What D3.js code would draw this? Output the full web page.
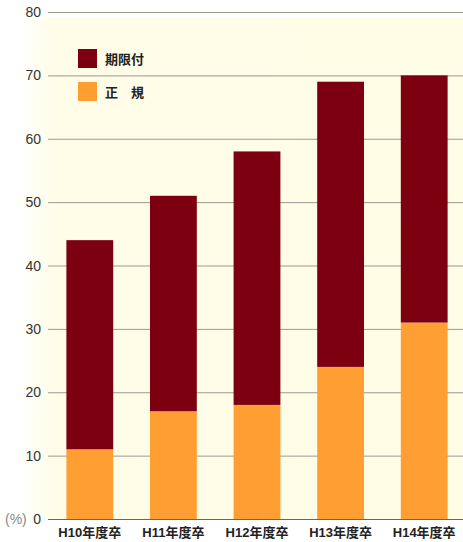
<!DOCTYPE html>
<html>
<head>
<meta charset="utf-8">
<script src="https://cdn.jsdelivr.net/npm/d3@7"></script>
<style>
body { margin: 0; background: #fff; }
text { font-family: "Liberation Sans", "Noto Sans CJK JP", sans-serif; }
</style>
</head>
<body>
<svg></svg>
<script>
var categories = ["H10年度卒", "H11年度卒", "H12年度卒", "H13年度卒", "H14年度卒"];
var seiki = [11, 17, 18, 24, 31];
var kigen = [33, 34, 40, 45, 39];
var yTicks = [0, 10, 20, 30, 40, 50, 60, 70, 80];
var legendNames = ["期限付", "正　規"];

var svgWidth = 463;
var svgHeight = 542;
var colorKigen = "#7d0011";
var colorSeiki = "#ff9f33";

var svg = d3.select("svg")
    .attr("width", svgWidth)
    .attr("height", svgHeight);

var y = d3.scaleLinear().domain([0, 80]).range([519, 12]);
var x = d3.scaleBand().domain(categories).range([48, 466]).paddingInner(0.44).paddingOuter(0.22);

// background
var defs = svg.append("defs");
var grad = defs.append("linearGradient").attr("id", "bg").attr("x1", "0").attr("x2", "1");
grad.append("stop").attr("offset", "0").attr("stop-color", "#ffffff");
grad.append("stop").attr("offset", "0.08").attr("stop-color", "#fffde8");
grad.append("stop").attr("offset", "1").attr("stop-color", "#fffde6");
svg.append("rect")
    .attr("x", 18).attr("y", 18)
    .attr("width", svgWidth - 18).attr("height", y(0) - 18)
    .attr("fill", "url(#bg)");

// grid lines
svg.selectAll("line.grid")
    .data(yTicks)
    .enter()
    .append("line")
    .attr("class", "grid")
    .attr("x1", 48).attr("x2", svgWidth)
    .attr("y1", function(d) { return y(d) + 0.5; })
    .attr("y2", function(d) { return y(d) + 0.5; })
    .attr("stroke", function(d) { return d == 0 ? "#666" : "#999990"; })
    .attr("stroke-width", 1);

svg.selectAll("text.ytick")
    .data(yTicks)
    .enter()
    .append("text")
    .attr("class", "ytick")
    .attr("x", 41)
    .attr("y", function(d) { return y(d) + 5; })
    .attr("text-anchor", "end")
    .attr("font-size", 14)
    .attr("fill", "#333")
    .text(function(d) { return d; });

svg.append("text")
    .attr("x", 5).attr("y", y(0) + 5)
    .attr("font-size", 14)
    .attr("fill", "#888")
    .text("(%)");

// bars
var stacked = categories.map(function(c, i) {
    return { cat: c, seiki: seiki[i], kigen: kigen[i] };
});

svg.selectAll("rect.seiki")
    .data(stacked)
    .enter()
    .append("rect")
    .attr("class", "seiki")
    .attr("x", function(d) { return x(d.cat); })
    .attr("width", x.bandwidth())
    .attr("y", function(d) { return y(d.seiki); })
    .attr("height", function(d) { return y(0) - y(d.seiki); })
    .attr("fill", colorSeiki);

svg.selectAll("rect.kigen")
    .data(stacked)
    .enter()
    .append("rect")
    .attr("class", "kigen")
    .attr("x", function(d) { return x(d.cat); })
    .attr("width", x.bandwidth())
    .attr("y", function(d) { return y(d.seiki + d.kigen); })
    .attr("height", function(d) { return y(d.seiki) - y(d.seiki + d.kigen); })
    .attr("fill", colorKigen);

svg.selectAll("text.xlab")
    .data(categories)
    .enter()
    .append("text")
    .attr("class", "xlab")
    .attr("x", function(d) { return x(d) + x.bandwidth() / 2; })
    .attr("y", 537)
    .attr("text-anchor", "middle")
    .attr("font-size", 13)
    .attr("font-weight", "bold")
    .attr("fill", "#222")
    .text(function(d) { return d; });

// legend
var legend = svg.selectAll("g.legend")
    .data(legendNames)
    .enter()
    .append("g")
    .attr("class", "legend")
    .attr("transform", function(d, i) { return "translate(78," + (49 + i * 33) + ")"; });

legend.append("rect")
    .attr("width", 19).attr("height", 19)
    .attr("fill", function(d, i) { return i == 0 ? colorKigen : colorSeiki; });

legend.append("text")
    .attr("x", 27).attr("y", 15)
    .attr("font-size", 13)
    .attr("font-weight", "bold")
    .attr("fill", "#222")
    .text(function(d) { return d; });
</script>
</body>
</html>
